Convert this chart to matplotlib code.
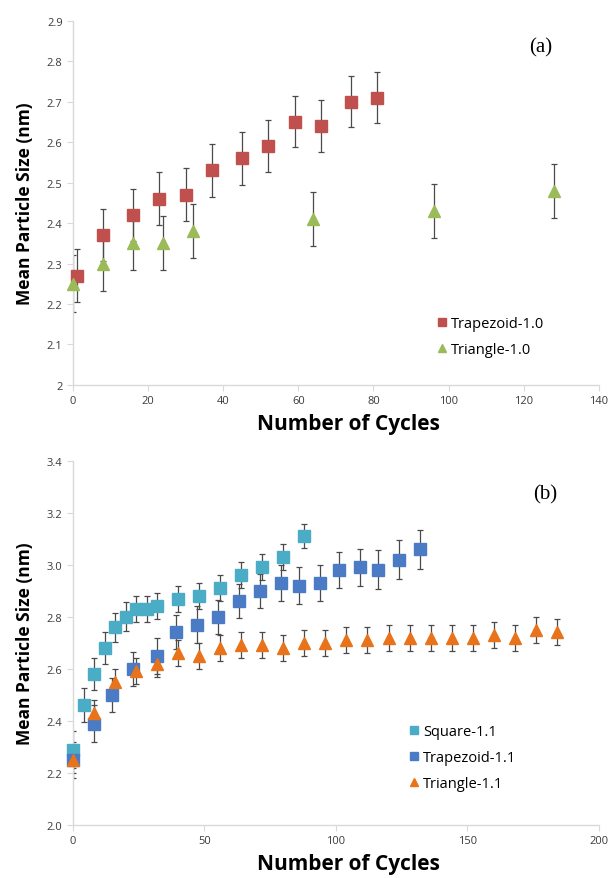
import matplotlib.pyplot as plt
from matplotlib.ticker import FuncFormatter

# panel (a)
trap10_x = [1, 8, 16, 23, 30, 37, 45, 52, 59, 66, 74, 81]
trap10_y = [2.27, 2.37, 2.42, 2.46, 2.47, 2.53, 2.56, 2.59, 2.65, 2.64, 2.70, 2.71]
trap10_err = [0.065, 0.065, 0.065, 0.065, 0.065, 0.065, 0.065, 0.065, 0.063, 0.065, 0.063, 0.063]

tri10_x = [0, 8, 16, 24, 32, 64, 96, 128]
tri10_y = [2.25, 2.30, 2.35, 2.35, 2.38, 2.41, 2.43, 2.48]
tri10_err = [0.07, 0.067, 0.067, 0.067, 0.067, 0.067, 0.067, 0.067]

# panel (b)
sq11_x = [0, 4, 8, 12, 16, 20, 24, 28, 32, 40, 48, 56, 64, 72, 80, 88]
sq11_y = [2.29, 2.46, 2.58, 2.68, 2.76, 2.80, 2.83, 2.83, 2.84, 2.87, 2.88, 2.91, 2.96, 2.99, 3.03, 3.11]
sq11_err = [0.07, 0.065, 0.06, 0.06, 0.055, 0.055, 0.05, 0.05, 0.05, 0.05, 0.05, 0.05, 0.05, 0.05, 0.05, 0.045]

trap11_x = [0, 8, 15, 23, 32, 39, 47, 55, 63, 71, 79, 86, 94, 101, 109, 116, 124, 132]
trap11_y = [2.25, 2.39, 2.50, 2.60, 2.65, 2.74, 2.77, 2.80, 2.86, 2.90, 2.93, 2.92, 2.93, 2.98, 2.99, 2.98, 3.02, 3.06]
trap11_err = [0.07, 0.07, 0.065, 0.065, 0.07, 0.065, 0.07, 0.065, 0.065, 0.065, 0.07, 0.07, 0.07, 0.07, 0.07, 0.075, 0.075, 0.075]

tri11_x = [0, 8, 16, 24, 32, 40, 48, 56, 64, 72, 80, 88, 96, 104, 112, 120, 128, 136, 144, 152, 160, 168, 176, 184]
tri11_y = [2.25, 2.43, 2.55, 2.59, 2.62, 2.66, 2.65, 2.68, 2.69, 2.69, 2.68, 2.70, 2.70, 2.71, 2.71, 2.72, 2.72, 2.72, 2.72, 2.72, 2.73, 2.72, 2.75, 2.74]
tri11_err = [0.05] * 24

plt.rcParams['font.family'] = ['Open Sans', 'DejaVu Sans']

fig = plt.figure(figsize=(6.1, 8.79), dpi=100)
ax1 = fig.add_axes([0.1197, 0.5609, 0.862, 0.4145])
ax2 = fig.add_axes([0.1197, 0.0603, 0.862, 0.4145])

ebar = dict(fmt='none', ecolor='#4a4a4a', elinewidth=0.9, capsize=2, capthick=0.9, zorder=2)


def excel_axes(ax, xmax, xstep, ymin, ymax, ystep, yfmt):
    ax.set_xlim(0, xmax)
    ax.set_ylim(ymin, ymax)
    ax.set_xticks([i * xstep for i in range(int(xmax / xstep) + 1)])
    n = int(round((ymax - ymin) / ystep))
    ax.set_yticks([ymin + i * ystep for i in range(n + 1)])
    ax.yaxis.set_major_formatter(FuncFormatter(yfmt))
    for s in ['top', 'right']:
        ax.spines[s].set_visible(False)
    for s in ['left', 'bottom']:
        ax.spines[s].set_color('#d9d9d9')
        ax.spines[s].set_linewidth(1.0)
    ax.tick_params(colors='#d9d9d9', labelcolor='#3a3a3a', labelsize=8, length=4, width=0.8)
    ax.set_xlabel('Number of Cycles', fontsize=15, fontweight='bold')
    ax.set_ylabel('Mean Particle Size (nm)', fontsize=12.5, fontweight='bold')
    ax.xaxis.set_label_coords(0.523, -0.078)
    ax.yaxis.set_label_coords(-0.075, 0.5)


# (a)
ax1.errorbar(trap10_x, trap10_y, yerr=trap10_err, **ebar)
ax1.errorbar(tri10_x, tri10_y, yerr=tri10_err, **ebar)
ax1.plot(trap10_x, trap10_y, 's', color='#c0504d', ms=8.5, mec='#c0504d', label='Trapezoid-1.0', zorder=3, clip_on=False)
ax1.plot(tri10_x, tri10_y, '^', color='#9bbb59', ms=8, mec='#9bbb59', label='Triangle-1.0', zorder=3, clip_on=False)
excel_axes(ax1, 140, 20, 2.0, 2.9, 0.1, lambda v, p: f'{v:g}')
ax1.text(0.868, 0.927, '(a)', transform=ax1.transAxes, fontsize=15, family='Liberation Serif', ha='left', va='center')
ax1.legend(loc='lower left', bbox_to_anchor=(0.683, 0.06), frameon=False, fontsize=10.5, markerscale=0.75,
           handlelength=0.6, handletextpad=0.3, labelspacing=0.75, borderaxespad=0)

# (b)
ax2.errorbar(sq11_x, sq11_y, yerr=sq11_err, **ebar)
ax2.errorbar(trap11_x, trap11_y, yerr=trap11_err, **ebar)
ax2.errorbar(tri11_x, tri11_y, yerr=tri11_err, **ebar)
ax2.plot(sq11_x, sq11_y, 's', color='#4bacc6', ms=8.5, mec='#4bacc6', label='Square-1.1', zorder=3, clip_on=False)
ax2.plot(trap11_x, trap11_y, 's', color='#4a7bc4', ms=8.5, mec='#4a7bc4', label='Trapezoid-1.1', zorder=3, clip_on=False)
ax2.plot(tri11_x, tri11_y, '^', color='#e8731a', ms=8, mec='#e8731a', label='Triangle-1.1', zorder=4, clip_on=False)
excel_axes(ax2, 200, 50, 2.0, 3.4, 0.2, lambda v, p: f'{v:.1f}')
ax2.text(0.875, 0.908, '(b)', transform=ax2.transAxes, fontsize=15, family='Liberation Serif', ha='left', va='center')
ax2.legend(loc='lower left', bbox_to_anchor=(0.63, 0.077), frameon=False, fontsize=10.5, markerscale=0.75,
           handlelength=0.6, handletextpad=0.3, labelspacing=0.75, borderaxespad=0)

fig.savefig('out.png', dpi=100)
